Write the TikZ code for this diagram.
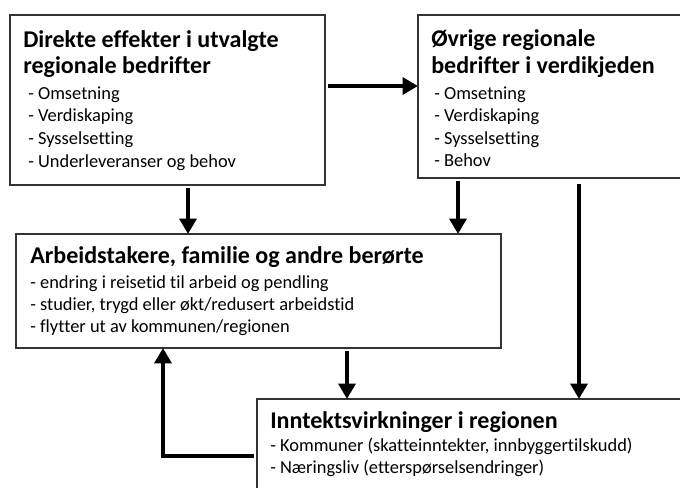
\documentclass[tikz,border=0pt]{standalone}
\usepackage{fontspec}
\setmainfont{Carlito}[Ligatures=NoCommon]
\usepackage{tikz}
\usetikzlibrary{arrows.meta,positioning}

\begin{document}
\begin{tikzpicture}[x=0.025cm, y=-0.025cm,
        boks/.style={draw=black!80, line width=0.9pt, fill=white, anchor=north west, inner sep=0pt, outer sep=0pt},
        tittel/.style={font=\fontsize{17.1}{20}\selectfont\bfseries, anchor=base west, inner sep=0pt},
        punkt/.style={font=\fontsize{13.1}{15}\selectfont, anchor=base west, inner sep=0pt},
        pil/.style={line width=3.5pt, shorten <=2pt, -{Triangle[width=12pt,length=11pt]}}]

        % Fix the frame
        \useasboundingbox (0,0) rectangle (680,488);
        \clip (0,0) rectangle (680,488);

        % Draw the boxes
        \node[boks, minimum width=315*0.025cm, minimum height=170*0.025cm] (direkte) at (10,15) {};
        \node[boks, minimum width=270*0.025cm, minimum height=163*0.025cm] (ovrige) at (418,15) {};
        \node[boks, minimum width=485*0.025cm, minimum height=114*0.025cm] (arbeid) at (16,234) {};
        \node[boks, minimum width=440*0.025cm, minimum height=100*0.025cm] (inntekt) at (257,399) {};

        % Titles
        \node[tittel] (direkteA) at ([shift={(13,32)}]direkte.north west) {Direkte effekter i utvalgte};
        \node[tittel] (direkteB) at ([shift={(13,58)}]direkte.north west) {regionale bedrifter};
        \node[tittel] (ovrigeA) at ([shift={(13,31)}]ovrige.north west) {Øvrige regionale};
        \node[tittel] (ovrigeB) at ([shift={(13,58)}]ovrige.north west) {bedrifter i verdikjeden};
        \node[tittel] (arbeidA) at ([shift={(14,29)}]arbeid.north west) {Arbeidstakere, familie og andre berørte};
        \node[tittel] (inntektA) at ([shift={(13,29)}]inntekt.north west) {Inntektsvirkninger i regionen};

        % Lists under the titles
        \foreach \t [count=\i from 0] in {Omsetning, Verdiskaping, Sysselsetting, Underleveranser og behov}
            \node[punkt] (direkte\i) at ([shift={(18,84+22.7*\i)}]direkte.north west) {- \t};
        \foreach \t [count=\i from 0] in {Omsetning, Verdiskaping, Sysselsetting, Behov}
            \node[punkt] (ovrige\i) at ([shift={(16,84+22.5*\i)}]ovrige.north west) {- \t};
        \foreach \t [count=\i from 0] in {endring i reisetid til arbeid og pendling, {studier, trygd eller økt/redusert arbeidstid}, flytter ut av kommunen/regionen}
            \node[punkt] (arbeid\i) at ([shift={(14,54+22*\i)}]arbeid.north west) {- \t};
        \foreach \t [count=\i from 0] in {{Kommuner (skatteinntekter, innbyggertilskudd)}, Næringsliv (etterspørselsendringer)}
            \node[punkt] (inntekt\i) at ([shift={(13,52+22*\i)}]inntekt.north west) {- \t};

        % Arrows
        \coordinate (h) at ([shift={(0,-14)}]direkte.east);
        \draw[pil] (h) -- (h -| ovrige.west);
        \draw[pil] (direkte.south -| 188,0) -- (arbeid.north -| 188,0);
        \draw[pil] (ovrige.south -| 458,0) -- (arbeid.north -| 458,0);
        \draw[pil, shorten <=4pt] (ovrige.south -| 579,0) -- (inntekt.north -| 579,0);
        \draw[pil] (arbeid.south -| 347,0) -- (inntekt.north -| 347,0);
        \draw[pil] (inntekt.west |- 0,456) -| (arbeid.south -| 163,0);
\end{tikzpicture}
\end{document}
